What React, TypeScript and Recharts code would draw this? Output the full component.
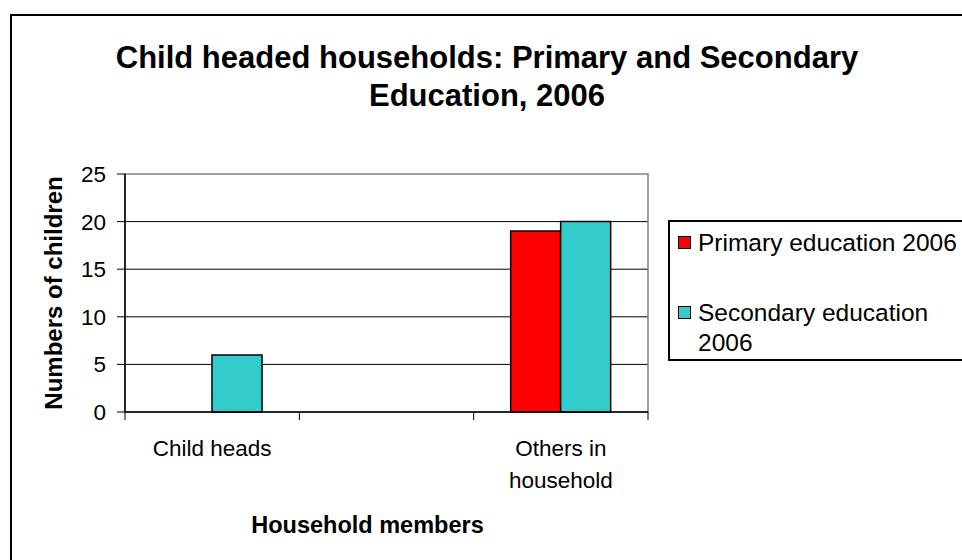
import React from "react";
import {
  BarChart,
  Bar,
  XAxis,
  YAxis,
  CartesianGrid,
  Legend,
  ReferenceArea,
} from "recharts";

const members = ["Child heads", "", "Others in household"];
const memberLabelLines = [["Child heads"], [], ["Others in", "household"]];
const primary2006 = [null, null, 19];
const secondary2006 = [6, null, 20];
const yTicks = [0, 5, 10, 15, 20, 25];
const gridValues = [5, 10, 15, 20];

const FONT = "'Liberation Sans', Arial, sans-serif";
const W = 962;
const H = 560;
const M = { top: 174, right: 314, bottom: 0, left: 45 };
const Y_AXIS_W = 80;
const X_AXIS_H = 148;
const PLOT_BOTTOM = H - M.bottom - X_AXIS_H;
const BAND = (W - M.left - Y_AXIS_W - M.right) / members.length;

const data = members.map((m, i) => ({
  member: m,
  primary: primary2006[i],
  secondary: secondary2006[i],
}));

// category labels with tick marks on the band edges (Excel style)
function MemberTick(props: any) {
  const { x, index } = props;
  const half = BAND / 2;
  const lines = memberLabelLines[index] || [];
  return (
    <g>
      <line x1={x - half} x2={x - half} y1={PLOT_BOTTOM} y2={PLOT_BOTTOM + 8} stroke="#000" />
      {index === members.length - 1 && (
        <line x1={x + half} x2={x + half} y1={PLOT_BOTTOM} y2={PLOT_BOTTOM + 8} stroke="#000" />
      )}
      <text
        x={x}
        y={PLOT_BOTTOM + 44}
        textAnchor="middle"
        fill="#000"
        style={{ fontSize: 22.5, fontFamily: FONT }}
      >
        {lines.map((ln, i) => (
          <tspan key={i} x={x} dy={i === 0 ? 0 : 32}>
            {ln}
          </tspan>
        ))}
      </text>
    </g>
  );
}

function LegendBox(props: any) {
  const { payload } = props;
  return (
    <div
      style={{
        border: "2px solid #000",
        height: 131,
        boxSizing: "content-box",
        padding: "6px 0 0 8px",
        fontFamily: FONT,
        fontSize: 24.5,
        color: "#000",
        background: "#fff",
        textAlign: "left",
      }}
    >
      {(payload || []).map((p: any, i: number) => (
        <div key={p.value} style={{ display: "flex", marginTop: i === 0 ? 0 : 40 }}>
          <span
            style={{
              width: 11,
              height: 11,
              marginTop: 8,
              marginRight: 7,
              background: p.color,
              border: "1.5px solid #000",
              flex: "none",
            }}
          />
          <span style={{ width: 272, lineHeight: "30px" }}>{p.value}</span>
        </div>
      ))}
    </div>
  );
}

export default function App() {
  return (
    <div
      style={{
        position: "absolute",
        left: 0,
        top: 0,
        width: W,
        height: H,
        overflow: "hidden",
        background: "#fff",
        fontFamily: FONT,
      }}
    >
      <div
        style={{
          position: "absolute",
          left: 10,
          top: 14,
          width: 1000,
          height: 600,
          border: "2px solid #000",
        }}
      />
      <div
        style={{
          position: "absolute",
          left: 97,
          top: 39,
          width: 780,
          textAlign: "center",
          fontSize: 31,
          fontWeight: "bold",
          lineHeight: "38px",
        }}
      >
        Child headed households: Primary and Secondary Education, 2006
      </div>
      <BarChart
        width={W}
        height={H}
        data={data}
        margin={M}
        barGap={0}
        barCategoryGap={37}
      >
        <CartesianGrid
          horizontal
          vertical={false}
          stroke="#000"
          horizontalValues={gridValues}
        />
        {/* grey plot-area frame */}
        <ReferenceArea
          y1={0}
          y2={25}
          fill="none"
          fillOpacity={0}
          stroke="#808080"
          strokeWidth={1.5}
          ifOverflow="visible"
        />
        <XAxis
          dataKey="member"
          interval={0}
          height={X_AXIS_H}
          tickLine={false}
          axisLine={{ stroke: "#000", strokeWidth: 1.5 }}
          tick={<MemberTick />}
          label={{
            value: "Household members",
            position: "insideBottom",
            offset: 27,
            dx: -19,
            style: { fontSize: 23.5, fontWeight: "bold", fill: "#000", fontFamily: FONT },
          }}
        />
        <YAxis
          width={Y_AXIS_W}
          domain={[0, 25]}
          ticks={yTicks}
          interval={0}
          tickSize={8}
          tickMargin={11}
          tickLine={{ stroke: "#000" }}
          axisLine={{ stroke: "#000", strokeWidth: 1.5 }}
          tick={{ fontSize: 22.5, fill: "#000", fontFamily: FONT }}
          label={{
            value: "Numbers of children",
            angle: -90,
            position: "insideLeft",
            offset: 8,
            style: { textAnchor: "middle", fontSize: 24, fontWeight: "bold", fill: "#000", fontFamily: FONT },
          }}
        />
        <Legend
          layout="vertical"
          verticalAlign="middle"
          align="center"
          content={<LegendBox />}
          wrapperStyle={{ left: 668, top: 220, right: "auto", bottom: "auto", width: 330 }}
        />
        <Bar
          dataKey="primary"
          name="Primary education 2006"
          fill="#FF0000"
          stroke="#000"
          strokeWidth={1.5}
          isAnimationActive={false}
        />
        <Bar
          dataKey="secondary"
          name="Secondary education 2006"
          fill="#33CCCC"
          stroke="#000"
          strokeWidth={1.5}
          isAnimationActive={false}
        />
      </BarChart>
    </div>
  );
}
